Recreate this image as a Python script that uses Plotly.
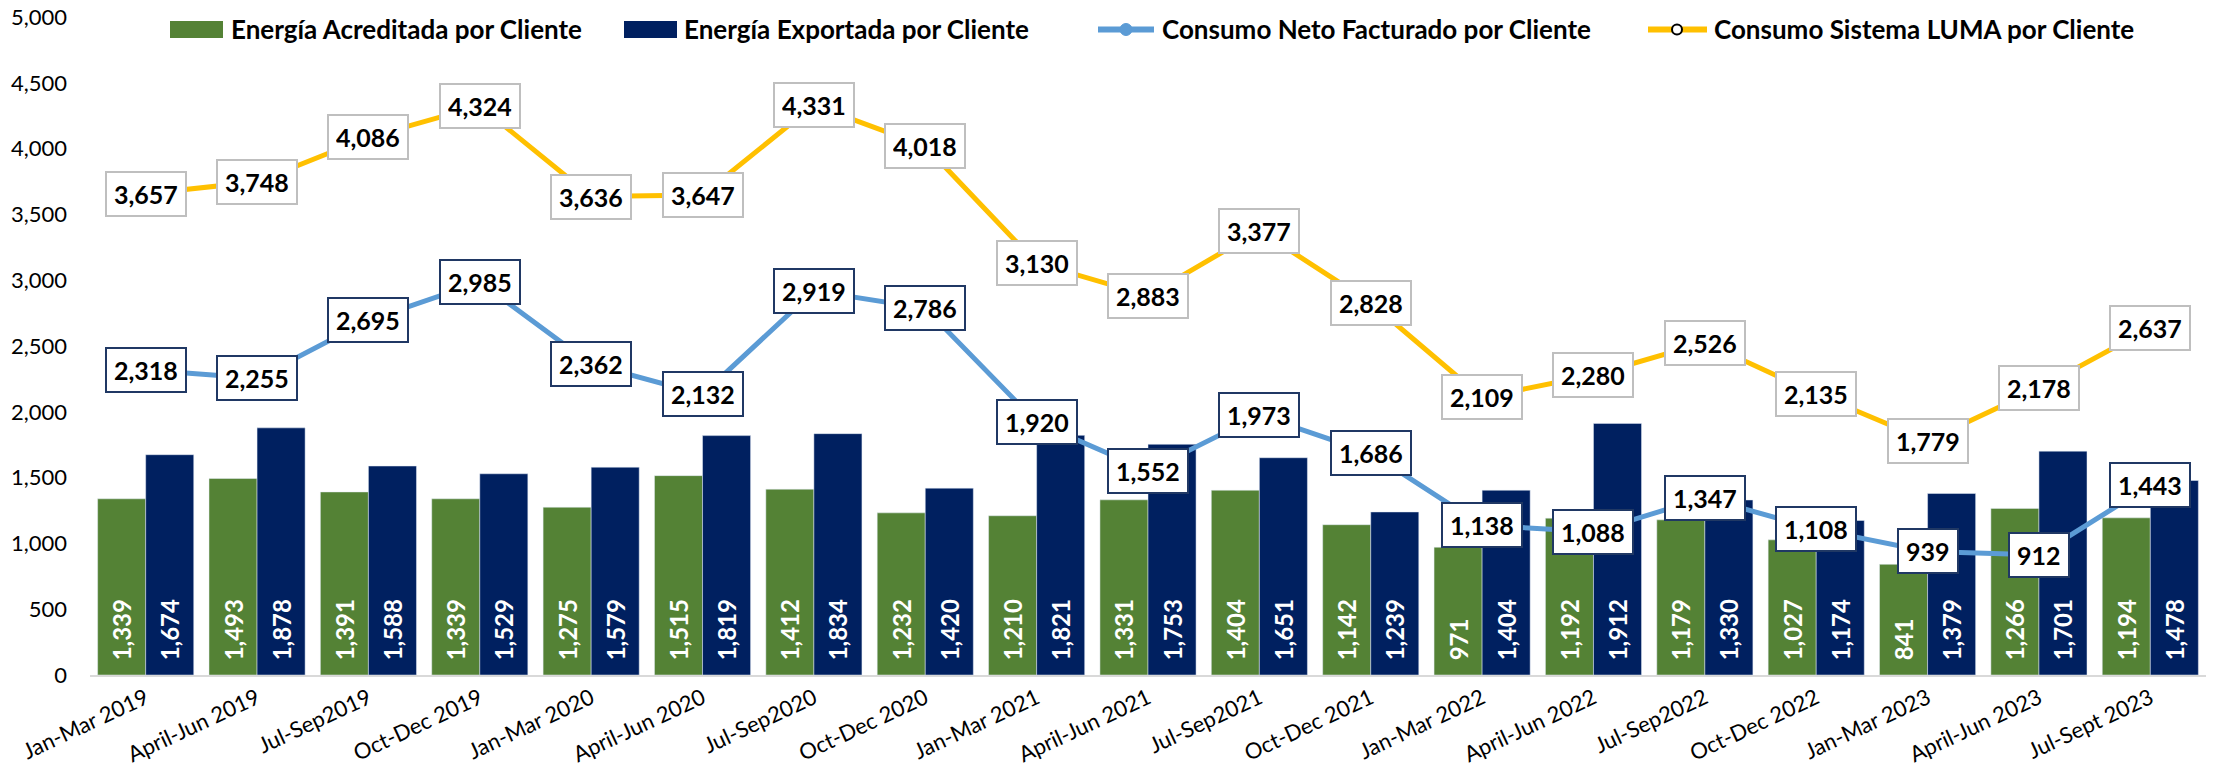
import plotly.graph_objects as go

categories = ["Jan-Mar 2019", "April-Jun 2019", "Jul-Sep2019", "Oct-Dec 2019",
              "Jan-Mar 2020", "April-Jun 2020", "Jul-Sep2020", "Oct-Dec 2020",
              "Jan-Mar 2021", "April-Jun 2021", "Jul-Sep2021", "Oct-Dec 2021",
              "Jan-Mar 2022", "April-Jun 2022", "Jul-Sep2022", "Oct-Dec 2022",
              "Jan-Mar 2023", "April-Jun 2023", "Jul-Sept 2023"]
acreditada = [1339, 1493, 1391, 1339, 1275, 1515, 1412, 1232, 1210, 1331,
              1404, 1142, 971, 1192, 1179, 1027, 841, 1266, 1194]
exportada = [1674, 1878, 1588, 1529, 1579, 1819, 1834, 1420, 1821, 1753,
             1651, 1239, 1404, 1912, 1330, 1174, 1379, 1701, 1478]
neto = [2318, 2255, 2695, 2985, 2362, 2132, 2919, 2786, 1920, 1552,
        1973, 1686, 1138, 1088, 1347, 1108, 939, 912, 1443]
luma = [3657, 3748, 4086, 4324, 3636, 3647, 4331, 4018, 3130, 2883,
        3377, 2828, 2109, 2280, 2526, 2135, 1779, 2178, 2637]
series_names = ["Energía Acreditada por Cliente", "Energía Exportada por Cliente",
                "Consumo Neto Facturado por Cliente", "Consumo Sistema LUMA por Cliente"]
y_ticks = [0, 500, 1000, 1500, 2000, 2500, 3000, 3500, 4000, 4500, 5000]

GREEN = "#548235"
NAVY = "#002060"
BLUE = "#5B9BD5"
YELLOW = "#FFC000"
FONT = "Lato"

W, H = 2213, 775
ML, MR, MT, MB = 90, 7, 17, 100
PW, PH = W - ML - MR, H - MT - MB


def px_x(px):
    return (px - ML) / PW


def px_y(py):
    return (H - MB - py) / PH


fig = go.Figure()
bar_text_font = dict(family=FONT, size=24, color="white", weight="bold")
fig.add_trace(go.Bar(name=series_names[0], x=categories, y=acreditada,
                     marker=dict(color=GREEN), texttemplate="\u00a0\u00a0%{y:,}",
                     textposition="inside", insidetextanchor="start", textangle=-90,
                     textfont=bar_text_font, showlegend=False))
fig.add_trace(go.Bar(name=series_names[1], x=categories, y=exportada,
                     marker=dict(color=NAVY), texttemplate="\u00a0\u00a0%{y:,}",
                     textposition="inside", insidetextanchor="start", textangle=-90,
                     textfont=bar_text_font, showlegend=False))
fig.add_trace(go.Scatter(name=series_names[2], x=categories, y=neto,
                         mode="lines+markers", line=dict(color=BLUE, width=5),
                         marker=dict(color=BLUE, size=11), showlegend=False))
fig.add_trace(go.Scatter(name=series_names[3], x=categories, y=luma,
                         mode="lines+markers", line=dict(color=YELLOW, width=5),
                         marker=dict(color="white", size=10, line=dict(color="black", width=2)),
                         showlegend=False))

annotations = []
for c, v in zip(categories, luma):
    annotations.append(dict(x=c, y=v, xref="x", yref="y", text=f"<b>{v:,}</b>",
                            showarrow=False, bgcolor="white", bordercolor="#BFBFBF",
                            borderwidth=2, borderpad=7, height=28,
                            font=dict(family=FONT, size=25, color="black")))
for c, v in zip(categories, neto):
    annotations.append(dict(x=c, y=v, xref="x", yref="y", text=f"<b>{v:,}</b>",
                            showarrow=False, bgcolor="white", bordercolor="#203864",
                            borderwidth=2, borderpad=7, height=28,
                            font=dict(family=FONT, size=25, color="black")))

# custom legend (Excel-style wide swatches)
shapes = []
leg_y = 29.5
shapes.append(dict(type="rect", xref="paper", yref="paper",
                   x0=px_x(170), x1=px_x(223), y0=px_y(21), y1=px_y(38),
                   fillcolor=GREEN, line=dict(width=0)))
shapes.append(dict(type="rect", xref="paper", yref="paper",
                   x0=px_x(624), x1=px_x(677), y0=px_y(21), y1=px_y(38),
                   fillcolor=NAVY, line=dict(width=0)))
shapes.append(dict(type="line", xref="paper", yref="paper",
                   x0=px_x(1098), x1=px_x(1154), y0=px_y(leg_y), y1=px_y(leg_y),
                   line=dict(color=BLUE, width=6)))
shapes.append(dict(type="circle", xref="paper", yref="paper",
                   x0=px_x(1120), x1=px_x(1132), y0=px_y(leg_y - 6), y1=px_y(leg_y + 6),
                   fillcolor=BLUE, line=dict(color=BLUE, width=1)))
shapes.append(dict(type="line", xref="paper", yref="paper",
                   x0=px_x(1648), x1=px_x(1707), y0=px_y(leg_y), y1=px_y(leg_y),
                   line=dict(color=YELLOW, width=6)))
shapes.append(dict(type="circle", xref="paper", yref="paper",
                   x0=px_x(1672), x1=px_x(1682), y0=px_y(leg_y - 5), y1=px_y(leg_y + 5),
                   fillcolor="white", line=dict(color="black", width=2)))
for name, tx in zip(series_names, [229, 682, 1160, 1712]):
    annotations.append(dict(x=px_x(tx), y=px_y(leg_y), xref="paper", yref="paper",
                            xanchor="left", yanchor="middle", showarrow=False,
                            text=f"<b>{name}</b>",
                            font=dict(family=FONT, size=26, color="black")))

fig.update_layout(
    width=W, height=H,
    margin=dict(l=ML, r=MR, t=MT, b=MB),
    paper_bgcolor="white", plot_bgcolor="white",
    barmode="group", bargap=0.137, bargroupgap=0,
    font=dict(family=FONT, color="black"),
    showlegend=False,
    uniformtext=dict(minsize=24, mode="show"),
    annotations=annotations,
    shapes=shapes,
)
fig.update_xaxes(type="category", range=[-0.5, len(categories) - 0.5],
                 tickangle=-25, showline=True, linecolor="#D9D9D9",
                 linewidth=2, ticks="", showgrid=False, automargin=False,
                 tickfont=dict(family=FONT, size=22, color="black"))
fig.update_yaxes(range=[0, 5000], tickvals=y_ticks, tickformat=",", showgrid=False,
                 zeroline=False, showline=False, ticks="", ticklabelstandoff=22,
                 automargin=False,
                 tickfont=dict(family=FONT, size=22, color="black"))

fig.write_html("out.html", config={"displayModeBar": False},
               post_script="document.body.style.margin='0';document.body.style.overflow='hidden';")
